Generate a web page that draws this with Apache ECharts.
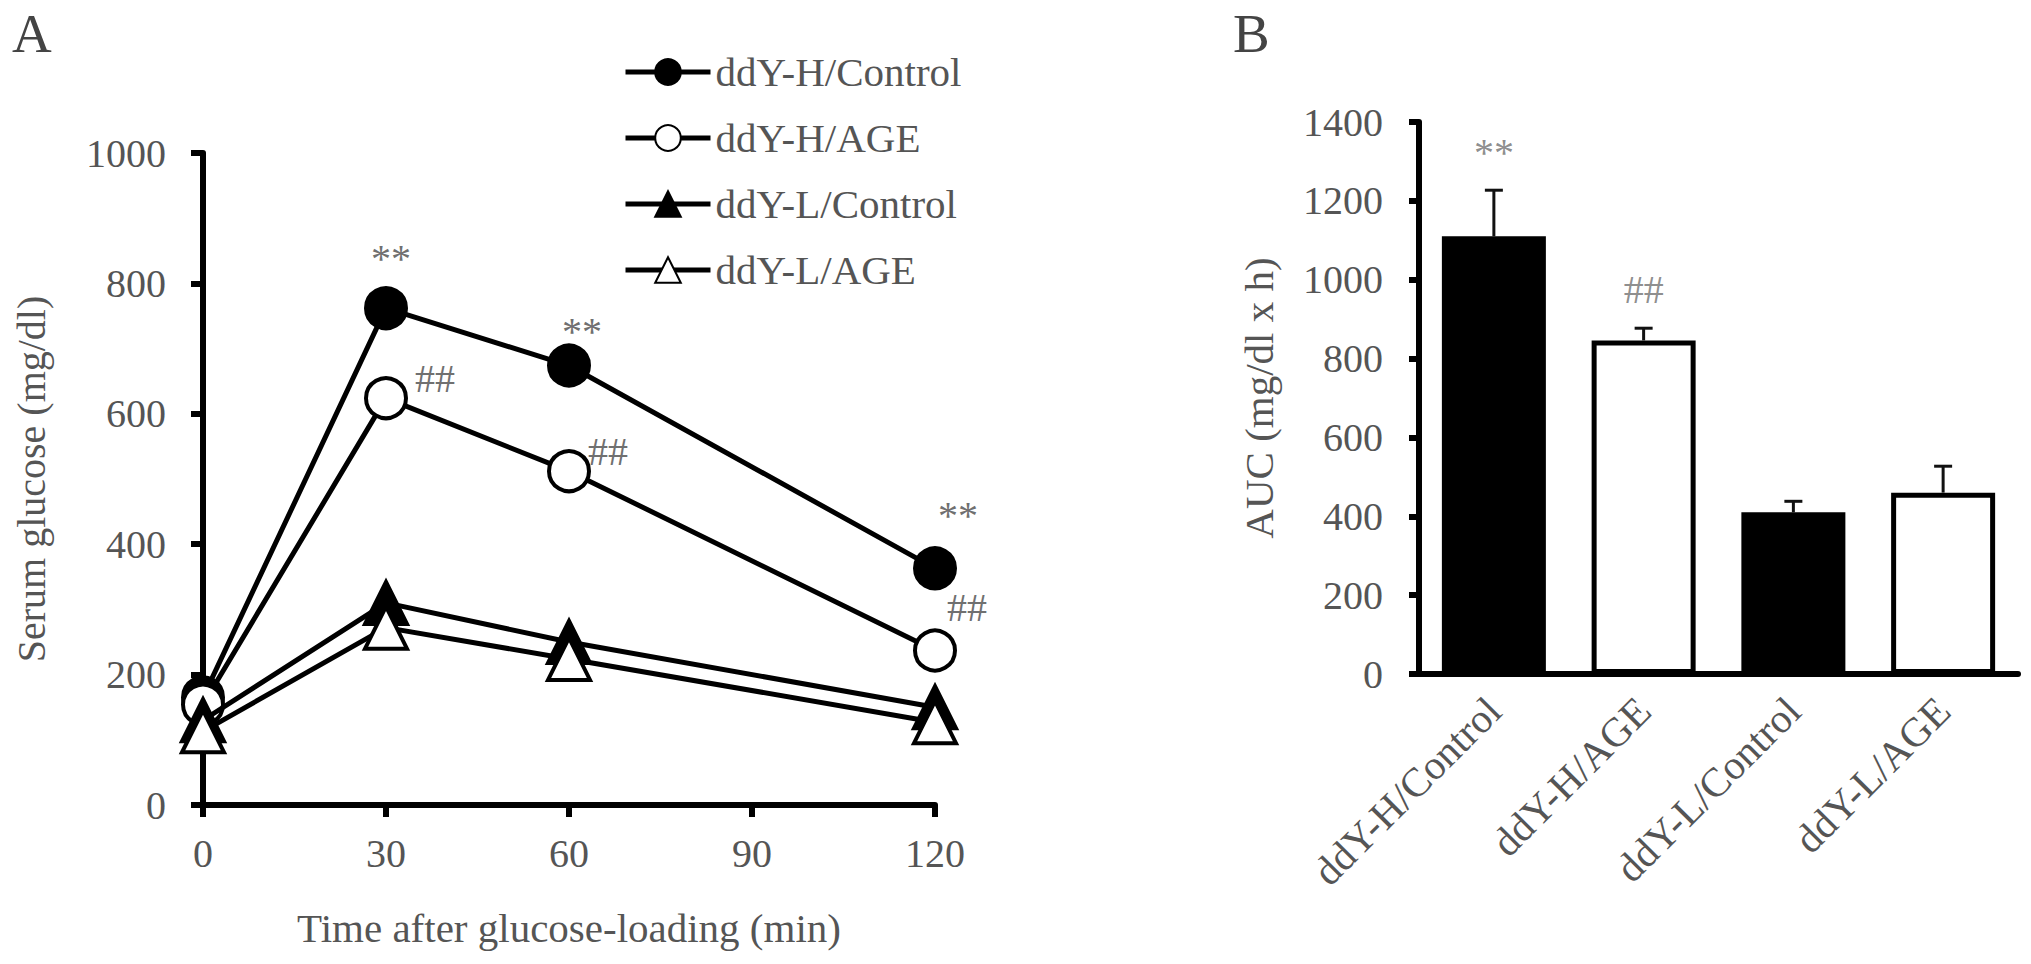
<!DOCTYPE html>
<html><head><meta charset="utf-8">
<script src="https://cdn.jsdelivr.net/npm/echarts@6/dist/echarts.min.js"></script>
<style>html,body{margin:0;padding:0;background:#fff;}#c{width:2031px;height:964px;}</style>
</head><body><div id="c"></div>
<script>
// ---------- data ----------
const timePoints = [0, 30, 60, 120];
const xTicksA = [0, 30, 60, 90, 120];
const yTicksA = [0, 200, 400, 600, 800, 1000];
const seriesNames = ['ddY-H/Control', 'ddY-H/AGE', 'ddY-L/Control', 'ddY-L/AGE'];
const hControl = [165, 762, 674, 363];
const hAGE = [154, 624, 512, 237];
const lControl = [130, 310, 250, 150];
const lAGE = [113, 272, 224, 127];
const hControlMarks = ['', '**', '**', '**'];
const hAGEMarks = ['', '##', '##', '##'];

const aucCategories = ['ddY-H/Control', 'ddY-H/AGE', 'ddY-L/Control', 'ddY-L/AGE'];
const yTicksB = [0, 200, 400, 600, 800, 1000, 1200, 1400];
const aucMeans = [1110, 846, 410, 460];
const aucSE = [117, 31, 28, 67];
const aucMarks = ['**', '##', '', ''];
const aucMarkLevel = [1322, 975, null, null];

// ---------- style ----------
const FONT = 'Liberation Serif';
const TXT = '#555';
const MARK = '#707070';
const symbolsA = ['circle', 'circle', 'triangle', 'triangle'];
const symbolSizesA = [40, 40, 42, 42];
const fillsA = ['#000', '#fff', '#000', '#fff'];
const fillsB = ['#000', '#fff', '#000', '#fff'];
const valuesA = [hControl, hAGE, lControl, lAGE];
const marksA = [hControlMarks, hAGEMarks, null, null];
const markOffsetsA = [
  [null, [5, -50], [13, -34], [23, -53]],
  [null, [49, -20], [39, -20], [32, -43]]
];
const plainNum = v => String(v);

const chart = echarts.init(document.getElementById('c'), null, {renderer: 'svg'});

const lineSeries = seriesNames.map((name, i) => ({
  type: 'line', name, xAxisIndex: 0, yAxisIndex: 0,
  data: timePoints.map((t, j) => {
    const item = {value: [t, valuesA[i][j]]};
    const m = marksA[i] && marksA[i][j];
    if (m) item.label = {show: true, formatter: m, position: 'inside', offset: markOffsetsA[i][j]};
    return item;
  }),
  symbol: symbolsA[i], symbolSize: symbolSizesA[i], showAllSymbol: true,
  itemStyle: {color: fillsA[i], borderColor: '#000', borderWidth: 4},
  lineStyle: {color: '#000', width: 5},
  label: {show: false, fontFamily: FONT, fontSize: 40, color: MARK},
  emphasis: {disabled: true},
  z: 2 + i
}));

const barSeries = {
  type: 'bar', name: 'AUC', xAxisIndex: 1, yAxisIndex: 1, barWidth: 104,
  data: aucMeans.map((v, i) => ({value: v, itemStyle: {color: fillsB[i], borderColor: '#000', borderWidth: 5}})),
  emphasis: {disabled: true}, z: 2
};

const errSeries = {
  type: 'custom', name: 'err', xAxisIndex: 1, yAxisIndex: 1,
  data: aucMeans.map((v, i) => [i, v, v + aucSE[i]]),
  encode: {x: 0, y: [1, 2]},
  renderItem: (params, api) => {
    const p0 = api.coord([api.value(0), api.value(1)]);
    const p1 = api.coord([api.value(0), api.value(2)]);
    return {type: 'group', children: [
      {type: 'line', shape: {x1: p0[0], y1: p0[1], x2: p1[0], y2: p1[1]}, style: {stroke: '#111', lineWidth: 3}},
      {type: 'line', shape: {x1: p1[0] - 9, y1: p1[1], x2: p1[0] + 9, y2: p1[1]}, style: {stroke: '#111', lineWidth: 3}}
    ]};
  },
  z: 3, silent: true
};

const annotB = {
  type: 'scatter', name: 'sig', xAxisIndex: 1, yAxisIndex: 1, symbolSize: 0,
  data: aucMarks.map((m, i) => m ? {value: [i, aucMarkLevel[i]], label: {show: true, formatter: m}} : null).filter(d => d),
  label: {position: 'inside', fontFamily: FONT, fontSize: 40, color: MARK},
  z: 4, silent: true
};

const axisLineStyle = {color: '#000', width: 6};

chart.setOption({
  animation: false,
  backgroundColor: '#fff',
  textStyle: {fontFamily: FONT},
  title: [
    {text: 'A', left: 12, top: 6, padding: 0, textStyle: {fontFamily: FONT, fontSize: 55, fontWeight: 'normal', color: '#444'}},
    {text: 'B', left: 1233, top: 6, padding: 0, textStyle: {fontFamily: FONT, fontSize: 55, fontWeight: 'normal', color: '#444'}}
  ],
  legend: {
    data: seriesNames, orient: 'vertical', left: 623, top: 50, padding: 0,
    itemWidth: 85, itemHeight: 32, itemGap: 22, selectedMode: false,
    lineStyle: {width: 5, color: '#000'},
    textStyle: {fontFamily: FONT, fontSize: 41, color: TXT, lineHeight: 44}
  },
  grid: [
    {left: 203, right: 2031 - 935, top: 153, bottom: 964 - 805, containLabel: false},
    {left: 1419, right: 2031 - 2018, top: 122, bottom: 964 - 674, containLabel: false}
  ],
  xAxis: [
    {type: 'value', gridIndex: 0, min: xTicksA[0], max: xTicksA[xTicksA.length - 1], interval: 30,
     axisLine: {show: true, onZero: false, lineStyle: axisLineStyle},
     axisTick: {show: true, length: 12, lineStyle: {color: '#000', width: 6}},
     axisLabel: {fontFamily: FONT, fontSize: 40, color: TXT, margin: 28, formatter: plainNum},
     splitLine: {show: false},
     name: 'Time after glucose-loading (min)', nameLocation: 'middle', nameGap: 102,
     nameTextStyle: {fontFamily: FONT, fontSize: 41, color: TXT}},
    {type: 'category', gridIndex: 1, data: aucCategories, boundaryGap: true,
     axisLine: {show: true, onZero: false, lineStyle: axisLineStyle},
     axisTick: {show: false},
     axisLabel: {fontFamily: FONT, fontSize: 41, color: TXT, rotate: 45, interval: 0, margin: 30},
     splitLine: {show: false}}
  ],
  yAxis: [
    {type: 'value', gridIndex: 0, min: yTicksA[0], max: yTicksA[yTicksA.length - 1], interval: 200,
     axisLine: {show: true, onZero: false, lineStyle: axisLineStyle},
     axisTick: {show: true, length: 12, lineStyle: {color: '#000', width: 6}},
     axisLabel: {fontFamily: FONT, fontSize: 40, color: TXT, margin: 37, formatter: plainNum},
     splitLine: {show: false},
     name: 'Serum glucose (mg/dl)', nameLocation: 'middle', nameGap: 152,
     nameTextStyle: {fontFamily: FONT, fontSize: 40, color: TXT}},
    {type: 'value', gridIndex: 1, min: yTicksB[0], max: yTicksB[yTicksB.length - 1], interval: 200,
     axisLine: {show: true, onZero: false, lineStyle: axisLineStyle},
     axisTick: {show: true, length: 10, lineStyle: {color: '#000', width: 6}},
     axisLabel: {fontFamily: FONT, fontSize: 40, color: TXT, margin: 36, formatter: plainNum},
     splitLine: {show: false},
     name: 'AUC (mg/dl x h)', nameLocation: 'middle', nameGap: 140,
     nameTextStyle: {fontFamily: FONT, fontSize: 41, color: TXT}}
  ],
  series: [...lineSeries, barSeries, errSeries, annotB]
});
</script></body></html>
